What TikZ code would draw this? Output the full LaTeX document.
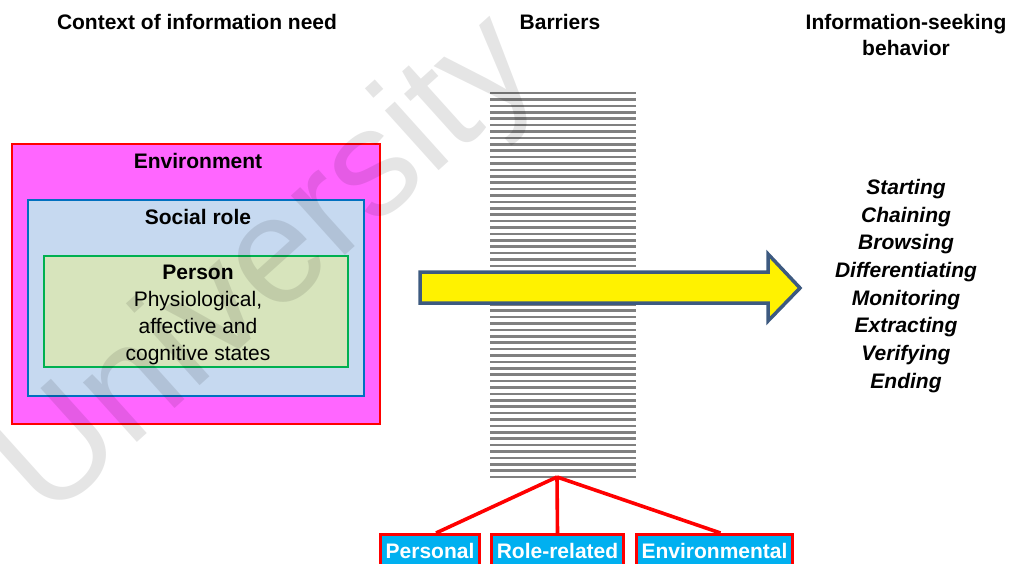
\documentclass[tikz,border=0pt]{standalone}
\usepackage{fontspec}
\setmainfont{Liberation Sans}
\usepackage{tikz}
\usetikzlibrary{positioning}
\usepackage{xcolor}

\definecolor{envpink}{HTML}{FF66FF}
\definecolor{rolefill}{HTML}{C6D9F0}
\definecolor{roleblue}{HTML}{0070C0}
\definecolor{personfill}{HTML}{D7E4BC}
\definecolor{persongreen}{HTML}{00B050}
\definecolor{stripegray}{HTML}{808080}
\definecolor{arrowedge}{HTML}{3D5A80}
\definecolor{barrierfill}{HTML}{00B0F0}

\tikzset{
  heading/.style={font=\bfseries\fontsize{21}{26}\selectfont, align=center},
  ctxbox/.style={rectangle, line width=2.6pt, inner sep=0pt},
  ctxlabel/.style={font=\bfseries\fontsize{21}{27}\selectfont, align=center},
  stripe/.style={draw=stripegray, line width=2.6pt},
  barrier/.style={draw=red, line width=2.8pt, fill=barrierfill, text=white,
    font=\bfseries\fontsize{21}{25}\selectfont, inner xsep=5pt,
    minimum height=34pt, anchor=north},
  link/.style={draw=red, line width=3.6pt}
}

\begin{document}
\begin{tikzpicture}[x=1pt,y=-1pt]
      \useasboundingbox (0,0) rectangle (1011,563);

      % column headings
      \node[heading] (hctx) at (197,22) {Context of information need};
      \node[heading] (hbar) at (560,22) {Barriers};
      \node[heading] (hseek) at (906,35) {Information-seeking\\behavior};

      % nested context boxes
      \node[ctxbox, draw=red, fill=envpink, minimum width=368pt, minimum height=280pt] (env) at (196,284) {};
      \node[ctxbox, draw=roleblue, fill=rolefill, minimum width=336pt, minimum height=196pt] (social) at (196,298) {};
      \node[ctxbox, draw=persongreen, fill=personfill, minimum width=304pt, minimum height=111pt] (person) at (196,311.5) {};
      \node[ctxlabel] (envlbl) at (198,161) {Environment};
      \node[ctxlabel] (sociallbl) at (198,217) {Social role};
      \node[ctxlabel] (personlbl) at (198,315) {Person\\\mdseries Physiological,\\\mdseries affective and\\\mdseries cognitive states};

      % the barrier
      \foreach \i in {0,...,60}
        \draw[stripe] (490,93+6.4*\i) -- (636,93+6.4*\i);
      \coordinate (apex) at (557,477);

      % big arrow
      \draw[line width=3.5pt, draw=arrowedge, fill=yellow, line join=miter]
        (420,272) -- (768,272) -- (768,254) -- (800,288) -- (768,321) -- (768,303) -- (420,303) -- cycle;

      % behaviour list
      \node[font=\bfseries\itshape\fontsize{21}{27.7}\selectfont, align=center] (steps) at (906,286)
        {Starting\\Chaining\\Browsing\\Differentiating\\Monitoring\\Extracting\\Verifying\\Ending};

      % kinds of barrier
      \node[barrier] (personal) at (430,533) {Personal};
      \node[barrier] (rolerel) at (557.5,533) {Role-related};
      \node[barrier] (envir) at (714.5,533) {Environmental};
      \draw[link] (apex) -- ([xshift=6pt]personal.north);
      \draw[link] (apex) -- (rolerel.north);
      \draw[link] (apex) -- ([xshift=6pt]envir.north);

      \node[rotate=42, text=black, opacity=0.1, font=\fontsize{152}{152}\selectfont] (mark) at (270,270) {University};
    \end{tikzpicture}
\end{document}
